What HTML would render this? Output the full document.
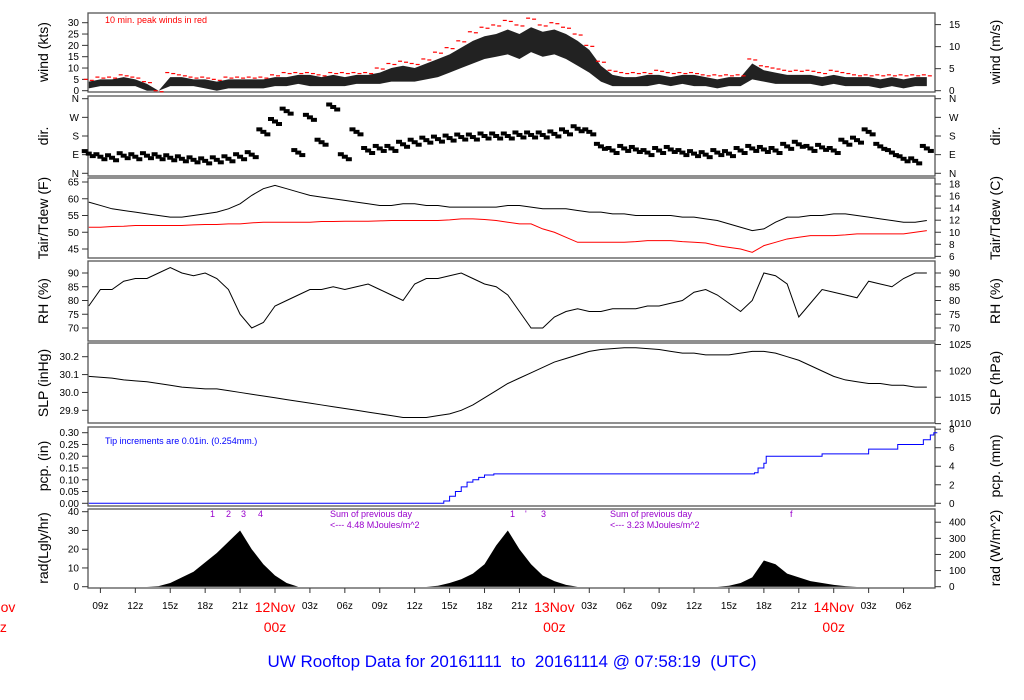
<!DOCTYPE html>
<html><head><meta charset="utf-8"><style>
body{margin:0;background:#fff;}
svg{display:block;font-family:"Liberation Sans",sans-serif;}
</style></head><body>
<svg id="chart" width="1024" height="700" viewBox="0 0 1024 700" xmlns="http://www.w3.org/2000/svg"></svg>
<script>
// ---- data (hourly, hours since 00z 11 Nov) ----
const hours = [];
for (let h = 8; h <= 80; h++) hours.push(h);
const windLo = [1,2,2,2,2,0,0,2,2,2,1,0,1,1,1,1,2,2,3,2,2,2,2,3,3,3,4,4,4,5,6,8,10,12,14,15,16,14,17,15,16,14,11,8,4,2,2,2,2,3,2,3,2,2,1,2,2,5,4,3,3,3,3,2,3,2,2,2,1,2,1,2,2];
const windHi = [4,5,5,6,5,3,0,6,6,5,5,4,5,5,5,5,6,6,7,7,6,7,6,7,7,8,10,11,10,12,14,16,19,22,24,25,27,25,28,26,27,25,22,18,11,7,6,6,7,7,6,7,7,6,5,6,6,12,9,8,7,7,7,6,7,6,6,6,5,6,5,6,6];
const windPk = [5,6,6,7,6,4,0,8,7,6,6,5,6,6,6,6,7,8,8,8,7,8,8,8,8,10,12,13,12,14,17,19,22,26,28,29,31,29,32,29,30,28,25,20,13,9,8,8,8,9,8,8,8,7,7,7,7,14,11,10,9,9,9,8,9,8,7,7,7,7,7,7,7];
const dirDeg = [95,80,75,85,80,85,80,75,70,65,60,65,70,80,90,200,250,300,100,270,150,320,80,200,110,120,120,140,150,160,165,170,175,175,180,180,180,185,185,185,190,200,215,200,130,110,120,115,100,110,115,100,95,90,100,95,110,120,115,110,130,140,120,125,110,150,160,200,130,100,70,60,120];
const tair = [59,58,57,56.5,56,55.5,55,54.5,54.5,55,55.5,56,57,58.5,61,63,64,63,62,61,60.5,60,59.5,59,58.5,58,58,58.5,58.5,58,58,57.5,57.5,57.5,57.5,57.5,58,58,57.5,57,57,57,56.5,56,56,55.5,55.5,55,55,55,55,54.5,54.5,54,53.5,52.5,51.5,50.5,51,53,54.5,54.5,55,55,55.5,55.5,55,54.5,54,53.5,53,53,53.5];
const tdew = [51.5,51.5,51.7,51.8,52,52,52,52,52,52.2,52.3,52.3,52.5,52.5,52.8,53,53,53,53,53,53.2,53.2,53.3,53.3,53.3,53.4,53.5,53.5,53.5,53.5,53.5,53.7,54,54,53.8,53.5,53,52.5,52.5,51,50,48.5,47,47,47,47,47,47.2,47.5,47.5,47.5,47.2,47,46.8,46,45.5,45,44,46,47,48,48.5,49,49,49,49.2,49.5,49.5,49.5,49.5,49.5,50,50.5];
const rh = [78,84,84,87,88,88,90,92,90,89,90,88,84,75,70,72,78,80,82,84,84,85,84,85,86,84,82,80,86,88,88,89,90,88,86,85,82,76,70,70,74,76,77,76,76,77,77,77,78,78,79,80,83,84,82,79,76,80,90,89,86,74,79,84,83,82,81,87,86,85,88,90,90];
const slp = [30.09,30.085,30.08,30.07,30.065,30.06,30.05,30.04,30.03,30.025,30.02,30.02,30.01,30.0,29.99,29.98,29.97,29.96,29.95,29.94,29.93,29.92,29.91,29.9,29.89,29.88,29.87,29.86,29.86,29.86,29.87,29.88,29.9,29.93,29.97,30.01,30.05,30.08,30.11,30.14,30.17,30.19,30.21,30.23,30.24,30.245,30.25,30.25,30.245,30.24,30.23,30.22,30.22,30.21,30.21,30.21,30.22,30.23,30.23,30.22,30.2,30.18,30.15,30.12,30.09,30.07,30.06,30.05,30.05,30.04,30.04,30.03,30.03];
const rad = [0,0,0,0,0,0,0.3,2,5,8,13,18,24,30,20,12,6,2,0,0,0,0,0,0,0,0,0,0,0,0,0.5,2,4,7,12,22,30,20,12,6,3,1,0,0,0,0,0,0,0,0,0,0,0,0,0,0.5,2,5,14,12,7,5,3,2,1,0.3,0,0,0,0,0,0,0];
const pcpTimes = [8,37.9,38.5,39,39.5,40,40.5,41,41.5,42,42.8,65.2,65.5,66,66.2,71,75,77.5,79.7,80.3,80.6,80.9];
const pcpVals = [0,0,0.01,0.03,0.05,0.07,0.09,0.1,0.11,0.12,0.125,0.13,0.15,0.17,0.2,0.21,0.23,0.25,0.27,0.29,0.3,0.3];
const xTickHours = [9,12,15,18,21,27,30,33,36,39,42,45,51,54,57,60,63,66,69,75,78];
const xTickLabels = ["09z","12z","15z","18z","21z","03z","06z","09z","12z","15z","18z","21z","03z","06z","09z","12z","15z","18z","21z","03z","06z"];
const dayHours = [0,24,48,72];
const dayLabels = ["11Nov","12Nov","13Nov","14Nov"];

const svg = document.getElementById('chart');
const NS = 'http://www.w3.org/2000/svg';
function el(tag, attrs, parent){const e=document.createElementNS(NS,tag);for(const k in attrs)e.setAttribute(k,attrs[k]);(parent||svg).appendChild(e);return e;}
function txt(s, attrs){const e=el('text',attrs);e.textContent=s;return e;}
const X0=88, X1=935;
function xs(h){return 275+(h-24)*11.64;}
function lin(v0,y0,v1,y1){return v=>y0+(v-v0)*(y1-y0)/(v1-v0);}

const P = {
  wind:{t:13,b:92,y:lin(0,90.7,30,22.7)},
  dir:{t:96,b:176,y:lin(0,173.3,360,98.7)},
  tair:{t:178,b:258,y:lin(45,249,65,182)},
  rh:{t:261,b:341,y:lin(70,328,90,273)},
  slp:{t:343,b:423,y:lin(29.9,410.3,30.2,356.7)},
  pcp:{t:427,b:506,y:lin(0,503.3,0.3,432.7)},
  rad:{t:509,b:588,y:lin(0,586.7,40,511.7)}
};
for (const k in P){
  const r=el('rect',{x:X0,y:P[k].t,width:X1-X0,height:P[k].b-P[k].t,fill:'none',stroke:'#555','stroke-width':1.3});
  
  
}
function leftTicks(p,vals,labels,name){
  vals.forEach((v,i)=>{const y=p.y(v);el('line',{x1:X0-6,x2:X0,y1:y,y2:y,stroke:'#333'});
    const t=txt(labels[i],{x:X0-9,y:y+3.5,'font-size':10,'text-anchor':'end',fill:'#000'});
    
    });
}
function rightTicks(p,vals,labels,conv,name){
  vals.forEach((v,i)=>{const y=p.y(conv(v));el('line',{x1:X1,x2:X1+6,y1:y,y2:y,stroke:'#333'});
    const t=txt(labels[i],{x:X1+14,y:y+3.5,'font-size':10,fill:'#000'});
    
    });
}
function ytitle(s,y,x,name){
  const t=txt(s,{x:x,y:y,'font-size':14,'text-anchor':'middle',transform:`rotate(-90 ${x} ${y})`,fill:'#000'});
  
  
}
leftTicks(P.wind,[0,5,10,15,20,25,30],["0","5","10","15","20","25","30"],'wind');
rightTicks(P.wind,[0,5,10,15],["0","5","10","15"],v=>v*1.94384,'wind-ms');
leftTicks(P.dir,[0,90,180,270,360],["N","E","S","W","N"],'dir');
rightTicks(P.dir,[0,90,180,270,360],["N","E","S","W","N"],v=>v,'dir-right');
leftTicks(P.tair,[45,50,55,60,65],["45","50","55","60","65"],'tair');
rightTicks(P.tair,[6,8,10,12,14,16,18],["6","8","10","12","14","16","18"],v=>v*9/5+32,'tair-c');
leftTicks(P.rh,[70,75,80,85,90],["70","75","80","85","90"],'rh');
rightTicks(P.rh,[70,75,80,85,90],["70","75","80","85","90"],v=>v,'rh-right');
leftTicks(P.slp,[29.9,30.0,30.1,30.2],["29.9","30.0","30.1","30.2"],'slp');
rightTicks(P.slp,[1010,1015,1020,1025],["1010","1015","1020","1025"],v=>v*0.0295300,'slp-hpa');
leftTicks(P.pcp,[0,0.05,0.1,0.15,0.2,0.25,0.3],["0.00","0.05","0.10","0.15","0.20","0.25","0.30"],'pcp');
rightTicks(P.pcp,[0,2,4,6,8],["0","2","4","6","8"],v=>v/25.4,'pcp-mm');
leftTicks(P.rad,[0,10,20,30,40],["0","10","20","30","40"],'rad');
rightTicks(P.rad,[0,100,200,300,400],["0","100","200","300","400"],v=>v/11.63,'rad-wm2');

ytitle('wind (kts)',52,48,'wind-y-title');
ytitle('dir.',136,48,'dir-y-title');
ytitle('Tair/Tdew (F)',218,48,'tair-y-title');
ytitle('RH (%)',301,48,'rh-y-title');
ytitle('SLP (inHg)',383,48,'slp-y-title');
ytitle('pcp. (in)',466,48,'pcp-y-title');
ytitle('rad(Lgly/hr)',548,48,'rad-y-title');
ytitle('wind (m/s)',52,1000,'wind-ms-title');
ytitle('dir.',136,1000,'dir-right-title');
ytitle('Tair/Tdew (C)',218,1000,'tair-c-title');
ytitle('RH (%)',301,1000,'rh-right-title');
ytitle('SLP (hPa)',383,1000,'slp-hpa-title');
ytitle('pcp. (mm)',466,1000,'pcp-mm-title');
ytitle('rad (W/m^2)',548,1000,'rad-wm2-title');

// wind band
let up='',dn='';
hours.forEach((h,i)=>{up+=`${xs(h)},${P.wind.y(windHi[i])} `;});
for(let i=hours.length-1;i>=0;i--)dn+=`${xs(hours[i])},${P.wind.y(windLo[i])} `;
const wb=el('polygon',{points:up+dn,fill:'#222',stroke:'none'});


hours.forEach((h,i)=>{const y=P.wind.y(windPk[i]);
  [-3,3].forEach(o=>{
  const d=el('line',{x1:xs(h)+o-2,x2:xs(h)+o+2,y1:y+(o>0?1:0),y2:y+(o>0?1:0),stroke:'#f00','stroke-width':1.2});
  
  });});
const wn=txt('10 min. peak winds in red',{x:105,y:23,'font-size':9,fill:'#f00'});



// direction
hours.forEach((h,i)=>{[-4,0,4].forEach((o,j)=>{const y=P.dir.y(dirDeg[i])+(j-1)*2.5;
  const d=el('rect',{x:xs(h)+o-3,y:y-2,width:6,height:4,fill:'#000'});
  
  });});

function line(arr,p,color,name){
  const pts=hours.map((h,i)=>`${xs(h)},${p.y(arr[i])}`).join(' ');
  const l=el('polyline',{points:pts,fill:'none',stroke:color,'stroke-width':1});
  
  
}
line(tair,P.tair,'#000','tair-line');
line(tdew,P.tair,'#f00','tdew-line');
line(rh,P.rh,'#000','rh-line');
line(slp,P.slp,'#000','slp-line');

let pp='';
pcpTimes.forEach((h,i)=>{const x=xs(h);const y=P.pcp.y(pcpVals[i]);
  if(i>0)pp+=`${x},${P.pcp.y(pcpVals[i-1])} `;pp+=`${x},${y} `;});
const pl=el('polyline',{points:pp,fill:'none',stroke:'#00f','stroke-width':1});


const pn=txt('Tip increments are 0.01in. (0.254mm.)',{x:105,y:444,'font-size':9,fill:'#00f'});



let ra=`${xs(hours[0])},${P.rad.y(0)} `;
hours.forEach((h,i)=>{ra+=`${xs(h)},${P.rad.y(rad[i])} `;});
ra+=`${xs(hours[hours.length-1])},${P.rad.y(0)}`;
const rp=el('polygon',{points:ra,fill:'#000'});


const ann=[["1",210,517],["2",226,517],["3",241,517],["4",258,517],["Sum of previous day",330,517],["<--- 4.48 MJoules/m^2",330,528],
 ["1",510,517],["'",525,517],["3",541,517],["Sum of previous day",610,517],["<--- 3.23 MJoules/m^2",610,528],["f",790,517]];
ann.forEach(a=>{const t=txt(a[0],{x:a[1],y:a[2],'font-size':9,fill:'#90c'});
  
  });

xTickHours.forEach((h,i)=>{const x=xs(h);el('line',{x1:x,x2:x,y1:588,y2:593,stroke:'#333'});
  const t=txt(xTickLabels[i],{x:x,y:609,'font-size':10,'text-anchor':'middle',fill:'#000'});
  
  });
dayHours.forEach((h,i)=>{const x=xs(h);el('line',{x1:x,x2:x,y1:588,y2:593,stroke:'#333'});
  const t=txt(dayLabels[i],{x:x,y:612,'font-size':14,'text-anchor':'middle',fill:'#f00'});
  
  
  const z=txt('00z',{x:x,y:632,'font-size':14,'text-anchor':'middle',fill:'#f00'});
  
  });

const title=txt('UW Rooftop Data for 20161111\u00a0 to\u00a0 20161114 @ 07:58:19\u00a0 (UTC)',{x:512,y:667,'font-size':17,'text-anchor':'middle',fill:'#00f'});


</script>
</body></html>
